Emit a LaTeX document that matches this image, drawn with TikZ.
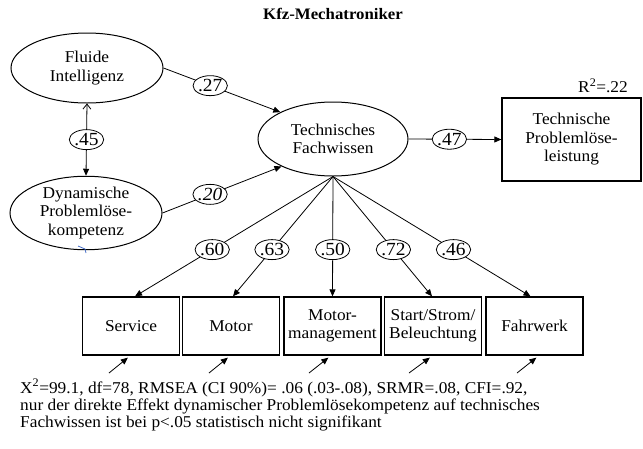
\documentclass[tikz,border=0pt]{standalone}
\usepackage{fontspec}
\setmainfont{Liberation Serif}[FakeStretch=1.05]
\usetikzlibrary{shapes.geometric,arrows.meta,calc}
\begin{document}
\begin{tikzpicture}[x=1pt,y=-1pt,
  lat/.style={ellipse, draw, line width=1pt, inner sep=0pt, minimum width=152pt, minimum height=70pt, align=center, font=\fontsize{16.5}{18.5}\selectfont},
  obs/.style={rectangle, draw, line width=1.3pt, minimum width=97pt, minimum height=58pt, inner sep=0pt, align=center, font=\fontsize{16.5}{18.5}\selectfont},
  coef/.style={ellipse, draw, fill=white, line width=0.8pt, inner sep=0pt, minimum width=34pt, minimum height=20pt, font=\fontsize{18.5}{18.5}\selectfont},
  arr/.style={-{Triangle[length=7pt,width=6pt]}, line width=0.8pt},
  foot/.style={anchor=base west, inner sep=0pt, font=\fontsize{16.5}{17}\selectfont}
]
\useasboundingbox (0,0) rectangle (643,448);
\node[font=\bfseries\fontsize{16}{18}\selectfont] (title) at (333,14) {Kfz-Mechatroniker};
\node[lat] (fl) at (87,68) {Fluide\\Intelligenz};
\node[lat, minimum height=68pt] (dp) at (86,213) {Dynamische\\Problemlöse-\\kompetenz};
\node[lat, minimum width=150pt, minimum height=74pt] (tf) at (333,139) {Technisches\\Fachwissen};
\node[obs, minimum width=139pt, minimum height=83pt] (tpl) at (571.5,139.5) {Technische\\Problemlöse-\\leistung};
\node[font=\fontsize{16.5}{18}\selectfont] (r2) at (603,86) {R\textsuperscript{2}=.22};

\node[obs] (b1) at (131,326) {Service};
\node[obs] (b2) at (231,326) {Motor};
\node[obs] (b3) at (332.5,326) {Motor-\\management};
\node[obs] (b4) at (433,326) {Start/Strom/\\Beleuchtung};
\node[obs] (b5) at (534.5,326) {Fahrwerk};

\draw[arr] (fl.east) -- node[coef, pos=0.4] (c27) {.27} (tf.153);
\draw[arr] (dp.east) -- node[coef, pos=0.4] (c20) {\itshape .20} (tf.208);
\draw[{Straight Barb[length=5pt,width=8pt]}-{Triangle[length=7pt,width=6pt]}, line width=0.8pt] (fl.south) -- node[coef, pos=0.5] (c45) {.45} (dp.north);
\draw[arr] (tf.east) -- node[coef, pos=0.44] (c47) {.47} (tpl.west);

\draw[arr] (tf.south) -- node[coef, pos=0.61] (l1) {.60} ($(b1.north)+(4,0)$);
\draw[arr] (tf.south) -- node[coef, pos=0.61] (l2) {.63} ($(b2.north)+(2,0)$);
\draw[arr] (tf.south) -- node[coef, pos=0.61] (l3) {.50} (b3.north);
\draw[arr] (tf.south) -- node[coef, pos=0.61] (l4) {.72} ($(b4.north)+(-1,0)$);
\draw[arr] (tf.south) -- node[coef, pos=0.61] (l5) {.46} ($(b5.north)+(-4,0)$);

\coordinate (e1) at (109,373);
\coordinate (e2) at (209,373);
\coordinate (e3) at (309,373);
\coordinate (e4) at (409,373);
\coordinate (e5) at (517,373);
\draw[arr] (e1) -- ($(b1.south west)+(46,2)$);
\draw[arr] (e2) -- ($(b2.south west)+(46,2)$);
\draw[arr] (e3) -- ($(b3.south west)+(45,2)$);
\draw[arr] (e4) -- ($(b4.south west)+(46,2)$);
\draw[arr] (e5) -- ($(b5.south west)+(51,2)$);

\draw[line width=0.8pt, color={rgb,255:red,70;green,110;blue,200}] (78,246) -- (85,249) -- (86,253);

\node[foot] (f1) at (20,393) {X\textsuperscript{2}=99.1, df=78, RMSEA (CI 90\%)= .06 (.03-.08), SRMR=.08, CFI=.92,};
\node[foot] (f2) at (20,410) {nur der direkte Effekt dynamischer Problemlösekompetenz auf technisches};
\node[foot] (f3) at (20,427) {Fachwissen ist bei p<.05 statistisch nicht signifikant};
\end{tikzpicture}
\end{document}
